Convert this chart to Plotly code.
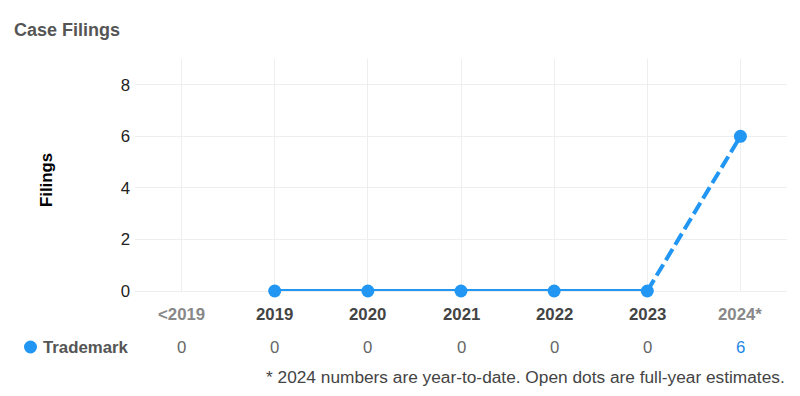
import plotly.graph_objects as go

categories = ["<2019", "2019", "2020", "2021", "2022", "2023", "2024*"]
trademark = [0, 0, 0, 0, 0, 0, 6]
partial_years = ["<2019", "2024*"]
y_ticks = [0, 2, 4, 6, 8]
series_name = "Trademark"
title_text = "Case Filings"
y_title = "Filings"
footnote = "* 2024 numbers are year-to-date. Open dots are full-year estimates."

BLUE = "#2196F3"
FONT = "Liberation Sans, Arial, sans-serif"
FS = 16.8

# page body has an 8px margin: figure spans 8..792 x 8..388 in the window
W, H = 784, 380
L, R, T, B = 127, 5, 51, 97
PW, PH = W - L - R, H - T - B


def px(xw):
    return (xw - 8 - L) / PW


def py(yw):
    return (H - B - (yw - 8)) / PH


fig = go.Figure()

fig.add_trace(go.Scatter(
    x=categories[1:6], y=trademark[1:6], mode="lines+markers",
    line=dict(color=BLUE, width=4), marker=dict(color=BLUE, size=13),
    cliponaxis=False, showlegend=False, hoverinfo="skip"))
fig.add_trace(go.Scatter(
    x=categories[5:7], y=trademark[5:7], mode="lines",
    line=dict(color=BLUE, width=4, dash="13px,5px"),
    cliponaxis=False, showlegend=False, hoverinfo="skip"))
fig.add_trace(go.Scatter(
    x=categories[6:7], y=trademark[6:7], mode="markers",
    marker=dict(color=BLUE, size=13),
    cliponaxis=False, showlegend=False, hoverinfo="skip"))

annotations = []
for i, (c, v) in enumerate(zip(categories, trademark)):
    partial = c in partial_years
    annotations.append(dict(
        x=i, xref="x", y=py(314), yref="paper", yanchor="middle",
        text="<b>" + c.replace("<", "&lt;") + "</b>", showarrow=False,
        font=dict(family=FONT, size=FS, color="#888888" if partial else "#444444")))
    annotations.append(dict(
        x=i, xref="x", y=py(347), yref="paper", yanchor="middle",
        text=str(v), showarrow=False,
        font=dict(family=FONT, size=FS, color="#1E88E5" if c == "2024*" else "#666666")))

annotations.append(dict(
    x=px(41), xref="paper", y=py(347), yref="paper", xanchor="left", yanchor="middle",
    text="<b>" + series_name + "</b>", showarrow=False,
    font=dict(family=FONT, size=FS, color="#555555")))
annotations.append(dict(
    x=px(787), xref="paper", y=py(377), yref="paper", xanchor="right", yanchor="middle",
    text=footnote, showarrow=False,
    font=dict(family=FONT, size=17.3, color="#444444")))
annotations.append(dict(
    x=px(46), xref="paper", y=py(180), yref="paper", xanchor="center", yanchor="middle",
    text="<b>" + y_title + "</b>", textangle=-90, showarrow=False,
    font=dict(family=FONT, size=FS, color="#000000")))

fig.add_shape(type="circle", xref="paper", yref="paper",
              x0=px(24), x1=px(37), y0=py(353.5), y1=py(340.5),
              fillcolor=BLUE, line=dict(width=0))

fig.update_layout(
    width=W, height=H,
    margin=dict(l=L, r=R, t=T, b=B),
    paper_bgcolor="white", plot_bgcolor="white",
    title=dict(text="<b>" + title_text + "</b>", x=(14 - 8) / W, xanchor="left",
               y=1 - (30 - 8) / H, yanchor="middle", xref="container", yref="container",
               font=dict(family=FONT, size=18, color="#555555")),
    xaxis=dict(type="category", categoryorder="array", categoryarray=categories,
               range=[-0.5, 6.5], showticklabels=False, showgrid=True,
               gridcolor="#EEEEEE", gridwidth=1, zeroline=False, showline=False,
               fixedrange=True),
    yaxis=dict(range=[0, 9], tickvals=y_ticks, showgrid=True, gridcolor="#EEEEEE",
               gridwidth=1, zeroline=True, zerolinecolor="#EEEEEE", zerolinewidth=1,
               showline=False, ticklabelstandoff=4,
               tickfont=dict(family=FONT, size=FS, color="#222222"), fixedrange=True),
    annotations=annotations,
    font=dict(family=FONT),
)

fig.write_html("out.html")
